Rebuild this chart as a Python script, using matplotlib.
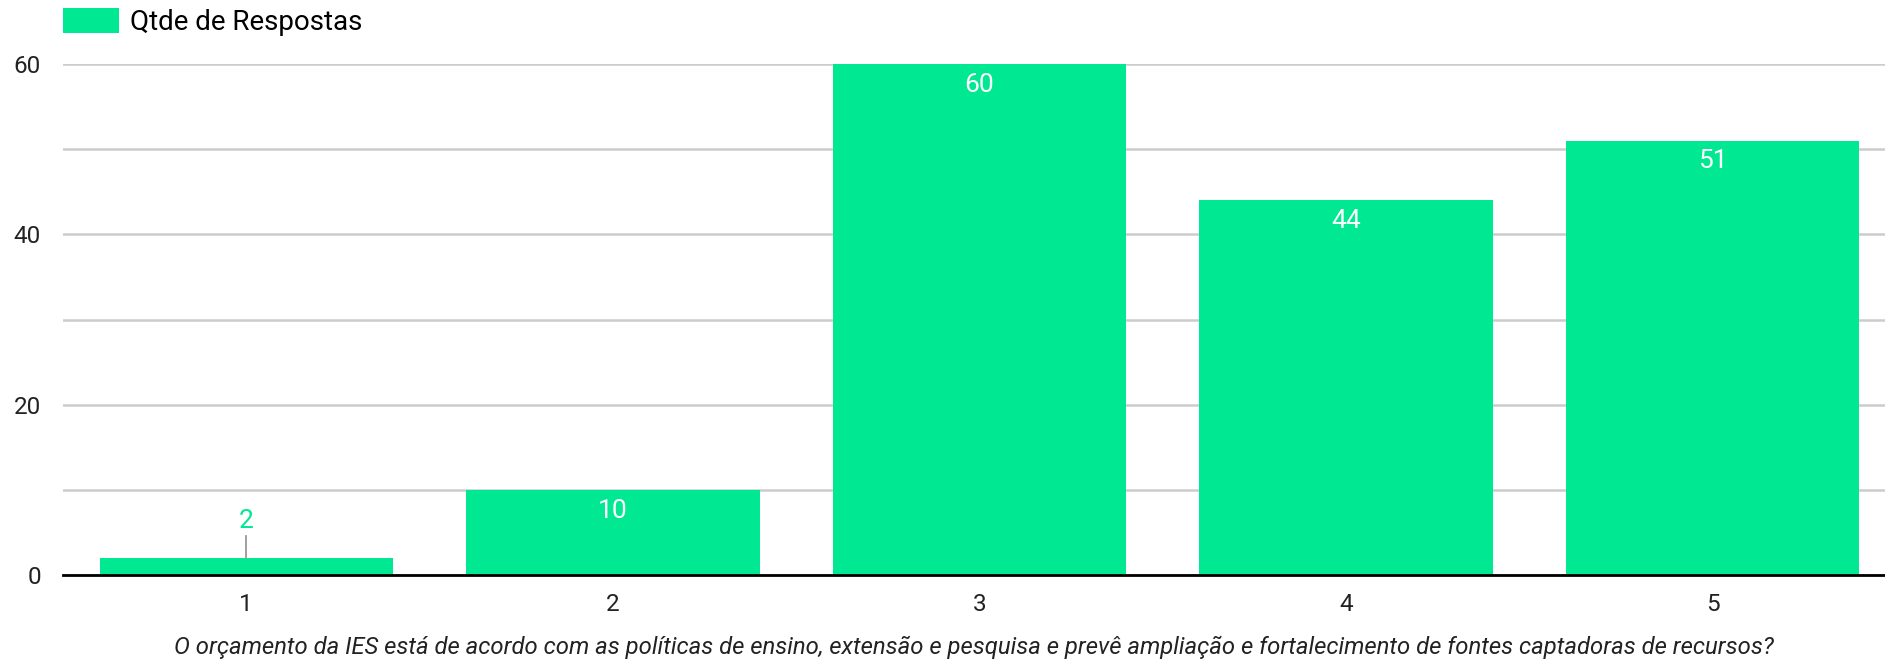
import matplotlib

matplotlib.use("Agg")
import matplotlib.pyplot as plt  # noqa: E402

plt.rcParams["font.family"] = ["Roboto", "DejaVu Sans"]

GREEN = "#00E891"
GRID = "#cccccc"

categories = ["1", "2", "3", "4", "5"]
respostas = [2, 10, 60, 44, 51]
series_name = "Qtde de Respostas"
xlabel = ("O orçamento da IES está de acordo com as políticas de ensino, extensão e "
          "pesquisa e prevê ampliação e fortalecimento de fontes captadoras de recursos?")

fig = plt.figure(figsize=(18.85, 6.62), dpi=100)
ax = fig.add_axes([63 / 1885, 1 - 575 / 662, 1 - 63 / 1885, (575 - 64) / 662])

x = range(len(categories))
bars = ax.bar(x, respostas, width=0.8, color=GREEN, zorder=2, label=series_name)

ax.set_xlim(-0.5, 4.47)
ax.set_ylim(0, 60)
ax.set_yticks(range(0, 61, 20))
ax.set_yticks(range(10, 61, 20), minor=True)
ax.set_xticks(list(x), categories)
ax.grid(axis="y", which="both", color=GRID, linewidth=1.8, zorder=0)
ax.tick_params(axis="both", which="both", length=0, labelsize=17.5, colors="#222222")
ax.tick_params(axis="y", pad=16)
ax.tick_params(axis="x", pad=13)
for s in ("top", "right", "left"):
    ax.spines[s].set_visible(False)
ax.spines["bottom"].set_linewidth(2)
ax.spines["bottom"].set_zorder(3)

ax.set_xlabel(xlabel, fontsize=17.2, style="italic", color="#222222", labelpad=14)

# value labels: inside the bar in white, small bars get a leader line
for i, v in enumerate(respostas):
    if v >= 5:
        ax.annotate(str(v), (i, v), xytext=(0, -15), textcoords="offset points",
                    ha="center", va="center", color="white", fontsize=19, zorder=4)
    else:
        ax.plot([i, i], [v, v + 2.6], color="#999999", linewidth=1.3, zorder=3)
        ax.annotate(str(v), (i, v + 2.6), xytext=(0, 11), textcoords="offset points",
                    ha="center", va="center", color=GREEN, fontsize=19, zorder=4)

fig.legend(handles=[bars], labels=[series_name], loc="upper left",
           bbox_to_anchor=(63 / 1885, 1 - 8 / 662), frameon=False, fontsize=20,
           borderpad=0, borderaxespad=0, handlelength=2.0, handleheight=1.0,
           handletextpad=0.4)

fig.savefig("out.png", dpi=100)
